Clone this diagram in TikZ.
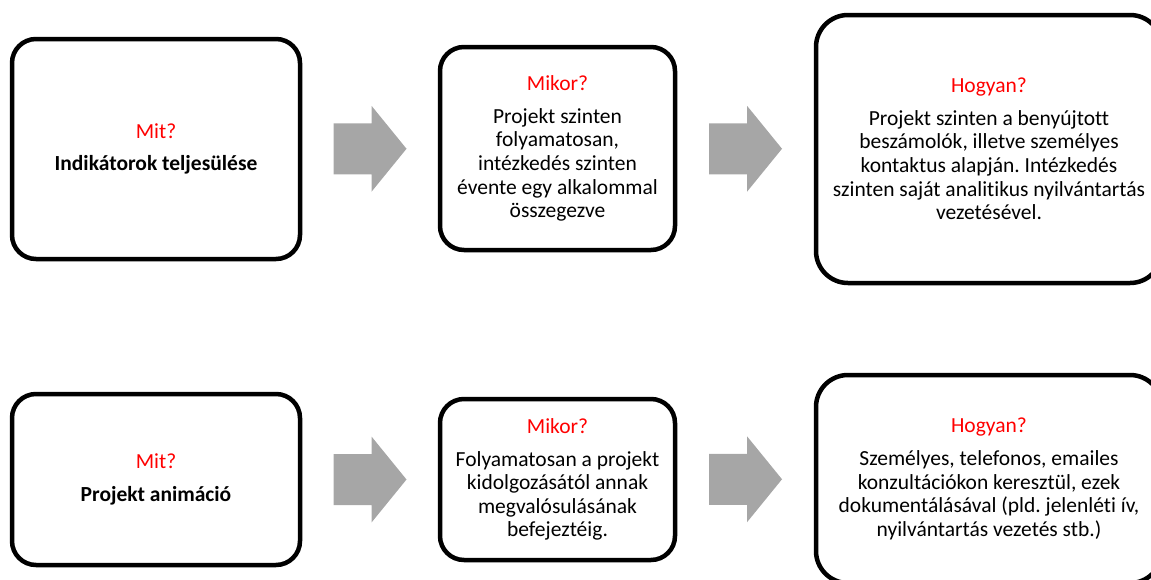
\documentclass[tikz,border=0pt]{standalone}
\usepackage{fontspec}
\setmainfont[Ligatures=NoCommon]{Carlito}
\frenchspacing
\usetikzlibrary{calc}
\definecolor{arrowgray}{RGB}{166,166,166}

\begin{document}
\begin{tikzpicture}[x=1pt,y=-1pt,
    box/.style={draw,line width=4.5pt,rounded corners=24pt,align=center,
      inner sep=0pt,font=\fontsize{21.5}{23.6}\selectfont},
    bigbox/.style={box,rounded corners=32pt},
    blockarrow/.pic={\fill[arrowgray] (-36.5,-25.5) -- (1.5,-25.5) -- (1.5,-43)
      -- (36.5,0) -- (1.5,43) -- (1.5,25.5) -- (-36.5,25.5) -- cycle;}]
    \useasboundingbox (0,0) rectangle (1151,579);
    \clip (0,0) rectangle (1151,579);
    % first row
    \node[box,minimum width=288pt,minimum height=220pt] (mit1) at (156,149)
      {\textcolor{red}{Mit?}\\[9pt]\textbf{Indikátorok teljesülése}};
    \node[box,minimum width=235pt,minimum height=203pt] (mikor1) at (557.5,148.5)
      {\textcolor{red}{Mikor?}\\[9pt]Projekt szinten\\folyamatosan,\\intézkedés szinten\\évente egy alkalommal\\összegezve};
    \node[bigbox,minimum width=346pt,minimum height=268pt] (hogyan1) at (989,149)
      {\textcolor{red}{Hogyan?}\\[9pt]Projekt szinten a benyújtott\\beszámolók, illetve személyes\\kontaktus alapján. Intézkedés\\szinten saját analitikus nyilvántartás\\vezetésével.};
    % second row
    \node[box,minimum width=288pt,minimum height=171pt] (mit2) at (156,479.5)
      {\textcolor{red}{Mit?}\\[9pt]\textbf{Projekt animáció}};
    \node[box,minimum width=235pt,minimum height=161pt] (mikor2) at (557.5,479.5)
      {\textcolor{red}{Mikor?}\\[9pt]Folyamatosan a projekt\\kidolgozásától annak\\megvalósulásának\\befejeztéig.};
    \node[bigbox,minimum width=346pt,minimum height=208pt] (hogyan2) at (989,479)
      {\textcolor{red}{Hogyan?}\\[9pt]Személyes, telefonos, emailes\\konzultációkon keresztül, ezek\\dokumentálásával (pld. jelenléti ív,\\nyilvántartás vezetés stb.)};
    % arrows
    \coordinate (a1) at ($(mit1.east)!0.5!(mikor1.west)$);
    \coordinate (a2) at ($(mikor1.east)!0.5!(hogyan1.west)$);
    \coordinate (a3) at ($(mit2.east)!0.5!(mikor2.west)$);
    \coordinate (a4) at ($(mikor2.east)!0.5!(hogyan2.west)$);
    \pic at (a1) {blockarrow};
    \pic at (a2) {blockarrow};
    \pic at (a3) {blockarrow};
    \pic at (a4) {blockarrow};
\end{tikzpicture}
\end{document}
